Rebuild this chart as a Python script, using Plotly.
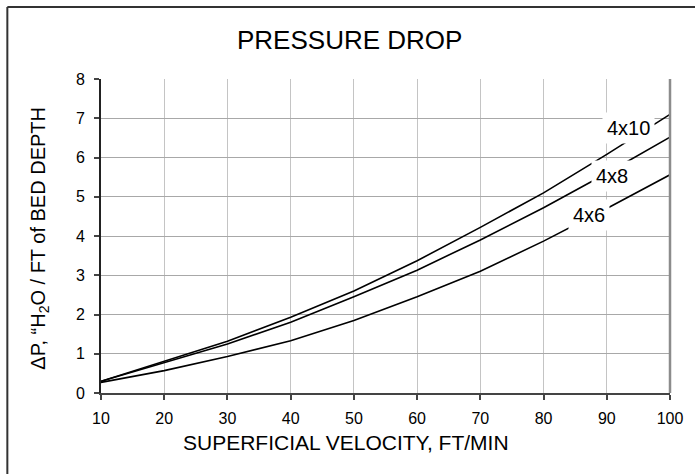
import plotly.graph_objects as go

velocity = [10, 20, 30, 40, 50, 60, 70, 80, 90, 100]
dp_4x10 = [0.30, 0.80, 1.32, 1.93, 2.60, 3.37, 4.22, 5.10, 6.08, 7.10]
dp_4x8 = [0.30, 0.77, 1.25, 1.80, 2.45, 3.13, 3.90, 4.72, 5.60, 6.52]
dp_4x6 = [0.27, 0.57, 0.93, 1.33, 1.85, 2.45, 3.10, 3.87, 4.70, 5.56]
series_names = ["4x10", "4x8", "4x6"]
label_x = [93.4, 90.9, 87.2]
label_y = [6.75, 5.53, 4.53]
x_ticks = [10, 20, 30, 40, 50, 60, 70, 80, 90, 100]
y_ticks = [0, 1, 2, 3, 4, 5, 6, 7, 8]

FONT = "Liberation Sans, Arial, sans-serif"

fig = go.Figure()
for name, ys in zip(series_names, [dp_4x10, dp_4x8, dp_4x6]):
    fig.add_trace(go.Scatter(x=velocity, y=ys, mode="lines", name=name,
                             line=dict(color="black", width=1.6),
                             showlegend=False, cliponaxis=False))

for name, lx, ly in zip(series_names, label_x, label_y):
    fig.add_annotation(x=lx, y=ly, xref="x", yref="y", text=name, showarrow=False,
                       font=dict(family=FONT, size=20, color="black"),
                       bgcolor="white", borderpad=4)

fig.add_annotation(x=0.437, y=1.124, xref="paper", yref="paper", text="PRESSURE DROP",
                   showarrow=False, font=dict(family=FONT, size=26, color="black"),
                   xanchor="center", yanchor="middle")
fig.add_annotation(x=0.43, y=-0.159, xref="paper", yref="paper",
                   text="SUPERFICIAL VELOCITY, FT/MIN", showarrow=False,
                   font=dict(family=FONT, size=21, color="black"),
                   xanchor="center", yanchor="middle")
fig.add_annotation(x=-0.1075, y=0.494, xref="paper", yref="paper",
                   text="ΔP, “H<sub>2</sub>O / FT of BED DEPTH", showarrow=False,
                   textangle=-90, font=dict(family=FONT, size=20, color="black"),
                   xanchor="center", yanchor="middle")

# right edge of plot area
fig.add_shape(type="line", xref="paper", yref="paper", x0=1, x1=1, y0=0, y1=1,
              line=dict(color="#8c8c8c", width=2.5), layer="above")
# outer frame (left and top edges visible)
fig.add_shape(type="line", xref="paper", yref="paper", x0=-0.1646, x1=-0.1646,
              y0=-0.4, y1=1.229, line=dict(color="#333333", width=2))
fig.add_shape(type="line", xref="paper", yref="paper", x0=-0.1646, x1=1.1,
              y0=1.229, y1=1.229, line=dict(color="#333333", width=2))

fig.update_xaxes(range=[10, 100], tickvals=x_ticks, ticktext=[str(v) for v in x_ticks],
                 showgrid=True, gridcolor="#c4c4c4", gridwidth=1.2,
                 showline=True, linecolor="#444444", linewidth=2,
                 ticks="outside", ticklen=5, tickcolor="#444444", tickwidth=1.5,
                 tickfont=dict(family=FONT, size=16, color="black"),
                 ticklabelstandoff=5, zeroline=False)
fig.update_yaxes(range=[0, 8], tickvals=y_ticks,
                 showgrid=True, gridcolor="#a8a8a8", gridwidth=1.2,
                 showline=True, linecolor="#222222", linewidth=2,
                 ticks="outside", ticklen=5, tickcolor="#444444", tickwidth=1.5,
                 tickfont=dict(family=FONT, size=16, color="black"),
                 ticklabelstandoff=6, zeroline=False)

fig.update_layout(width=695, height=474,
                  margin=dict(l=101, r=17, t=79, b=81),
                  paper_bgcolor="white", plot_bgcolor="white",
                  font=dict(family=FONT, color="black"))

fig.write_html("out.html", config={"displayModeBar": False},
               post_script="document.body.style.margin='0';document.body.style.overflow='hidden';")
